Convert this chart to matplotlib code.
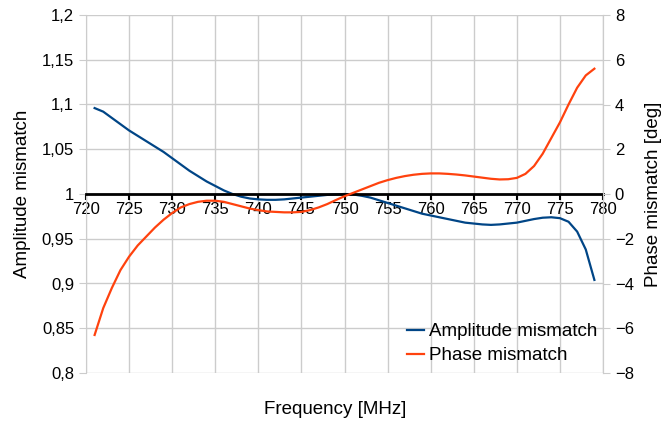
import matplotlib
matplotlib.use("Agg")
import matplotlib.pyplot as plt
from matplotlib.ticker import FuncFormatter, MultipleLocator

plt.rcParams['font.family'] = ['Liberation Sans', 'DejaVu Sans']

# values
freq = list(range(721, 780))
amplitude = [1.096, 1.092, 1.085, 1.078, 1.071, 1.065, 1.059, 1.053, 1.047, 1.040,
             1.033, 1.026, 1.020, 1.014, 1.009, 1.004, 1.000, 0.997, 0.995, 0.994,
             0.9935, 0.9935, 0.994, 0.995, 0.996, 0.997, 0.998, 0.999, 0.9995, 1.000,
             0.9995, 0.998, 0.996, 0.993, 0.990, 0.987, 0.984, 0.981, 0.978, 0.976,
             0.974, 0.972, 0.970, 0.968, 0.967, 0.966, 0.9655, 0.966, 0.967, 0.968,
             0.970, 0.972, 0.9735, 0.974, 0.973, 0.969, 0.958, 0.938, 0.904]
phase = [-6.3, -5.1, -4.2, -3.4, -2.8, -2.3, -1.9, -1.5, -1.15, -0.85,
         -0.6, -0.45, -0.35, -0.3, -0.3, -0.35, -0.45, -0.55, -0.65, -0.72,
         -0.78, -0.8, -0.82, -0.82, -0.8, -0.72, -0.6, -0.45, -0.27, -0.1,
         0.05, 0.2, 0.35, 0.5, 0.62, 0.72, 0.8, 0.86, 0.9, 0.92,
         0.92, 0.9, 0.87, 0.83, 0.78, 0.73, 0.68, 0.65, 0.66, 0.72,
         0.9, 1.25, 1.8, 2.5, 3.2, 4.0, 4.75, 5.3, 5.6]

BLUE = '#004586'
ORANGE = '#ff420e'
GRID = '#cccccc'

fig = plt.figure(figsize=(6.62, 4.28), dpi=100)
ax = fig.add_axes([86 / 662, 1 - 373 / 428, (603 - 86) / 662, (373 - 15) / 428])
ax2 = ax.twinx()

ax.set_xlim(720, 780)
ax.set_ylim(0.8, 1.2)
ax2.set_ylim(-8, 8)

ax.xaxis.set_major_locator(MultipleLocator(5))
ax.yaxis.set_major_locator(MultipleLocator(0.05))
ax2.yaxis.set_major_locator(MultipleLocator(2))
ax.yaxis.set_major_formatter(FuncFormatter(lambda v, p: f"{v:.2f}".rstrip('0').rstrip('.').replace('.', ',')))

ax.grid(True, color=GRID, linewidth=1)
ax.set_axisbelow(True)

# x axis crosses at amplitude = 1
ax.spines['bottom'].set_position(('data', 1.0))
ax.spines['bottom'].set_color('black')
ax.spines['bottom'].set_linewidth(2)
ax.spines['top'].set_visible(False)
for s in ('left', 'right'):
    ax.spines[s].set_color(GRID)
for s in ('top', 'bottom', 'left'):
    ax2.spines[s].set_visible(False)
ax2.spines['right'].set_color(GRID)

ax.tick_params(axis='x', direction='out', length=4, width=1.5, color='black',
               labelsize=12, pad=2)
ax.tick_params(axis='y', direction='out', length=5, color=GRID, labelsize=12)
ax2.tick_params(axis='y', direction='out', length=5, color=GRID, labelsize=12)

l1, = ax.plot(freq, amplitude, color=BLUE, linewidth=1.6, label='Amplitude mismatch')
l2, = ax2.plot(freq, phase, color=ORANGE, linewidth=1.6, label='Phase mismatch')

ax.set_ylabel('Amplitude mismatch', fontsize=13.5, labelpad=8)
ax2.set_ylabel('Phase mismatch [deg]', fontsize=13.5, labelpad=8)
fig.text(335 / 662, 1 - 409 / 428, 'Frequency [MHz]', fontsize=13.5, ha='center', va='center')

ax2.legend(handles=[l1, l2], loc='upper left', frameon=False, fontsize=13.5,
           handlelength=0.9, handletextpad=0.25, labelspacing=0.38,
           borderpad=0, borderaxespad=0,
           bbox_to_anchor=(407 / 662, 1 - 323 / 428), bbox_transform=fig.transFigure)

fig.savefig('out.png', dpi=100)
